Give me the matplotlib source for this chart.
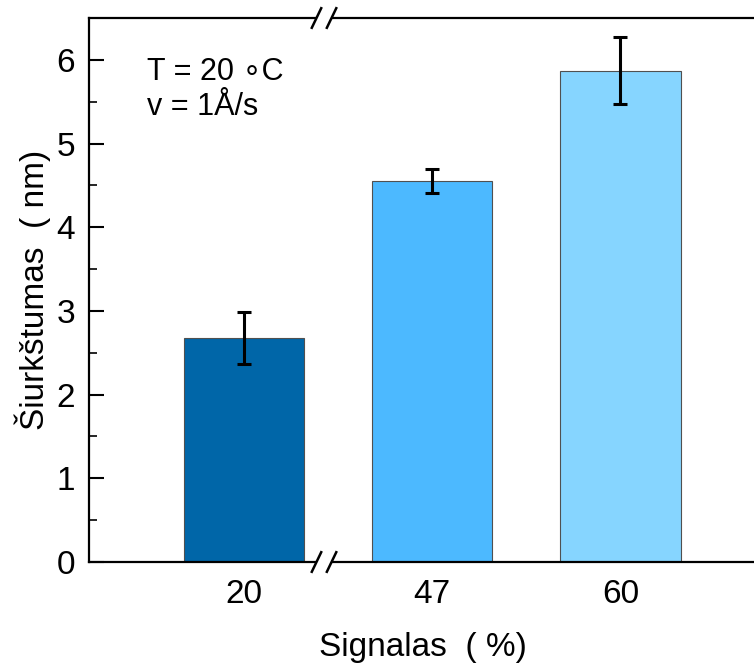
import matplotlib.pyplot as plt
from matplotlib.ticker import MultipleLocator

plt.rcParams['font.family'] = ['Liberation Sans', 'DejaVu Sans']

signal = ['20', '47', '60']
roughness = [2.68, 4.55, 5.87]
errors = [0.31, 0.14, 0.40]
colors = ['#0066a8', '#4cb9ff', '#86d5ff']

fig = plt.figure(figsize=(7.54, 6.66), dpi=100)
ax = fig.add_axes([89 / 754, 1 - 562 / 666, 1.005 - 89 / 754, (562 - 18) / 666])

x = range(len(signal))
ax.bar(x, roughness, width=0.64, color=colors, edgecolor='#505050', linewidth=0.8, zorder=2)
ax.errorbar(x, roughness, yerr=errors, fmt='none', ecolor='black', elinewidth=2.2,
            capsize=5, capthick=2.2, zorder=3)

ax.set_xlim(-0.824, 2.73)
ax.set_ylim(0, 6.5)
ax.set_xticks(list(x))
ax.set_xticklabels(signal)
ax.yaxis.set_major_locator(MultipleLocator(1))
ax.yaxis.set_minor_locator(MultipleLocator(0.5))

ax.tick_params(axis='both', which='major', direction='in', length=11, width=1.5,
               labelsize=24, right=False, top=False)
ax.tick_params(axis='y', which='minor', direction='in', length=6, width=1.2, right=False)
ax.tick_params(axis='y', pad=10)
ax.tick_params(axis='x', pad=12)

for s in ['left', 'bottom', 'top']:
    ax.spines[s].set_linewidth(1.6)
ax.spines['right'].set_visible(False)

ax.set_ylabel('Šiurkštumas  ( nm)', fontsize=24, labelpad=4)
ax.set_xlabel('Signalas  ( %)', fontsize=24, labelpad=16)

ax.text(0.087, 0.90, 'T = 20 \u2218C', transform=ax.transAxes, fontsize=22, va='center')
ax.text(0.087, 0.836, 'v = 1Å/s', transform=ax.transAxes, fontsize=22, va='center')

# axis break marks on top and bottom spines
xb = 0.405
for yb in (0, 1):
    ax.plot([xb - 0.005, xb + 0.045], [yb, yb], transform=ax.get_xaxis_transform(),
            color='white', linewidth=4, clip_on=False, zorder=5)
    for dx in (0.0, 0.08):
        x0 = xb - 0.02 + dx
        ax.plot([x0 - 0.025, x0 + 0.025], [yb - 0.018, yb + 0.018],
                transform=ax.get_xaxis_transform(), color='black', linewidth=1.8,
                clip_on=False, zorder=6)

fig.savefig('out.png', dpi=100)
